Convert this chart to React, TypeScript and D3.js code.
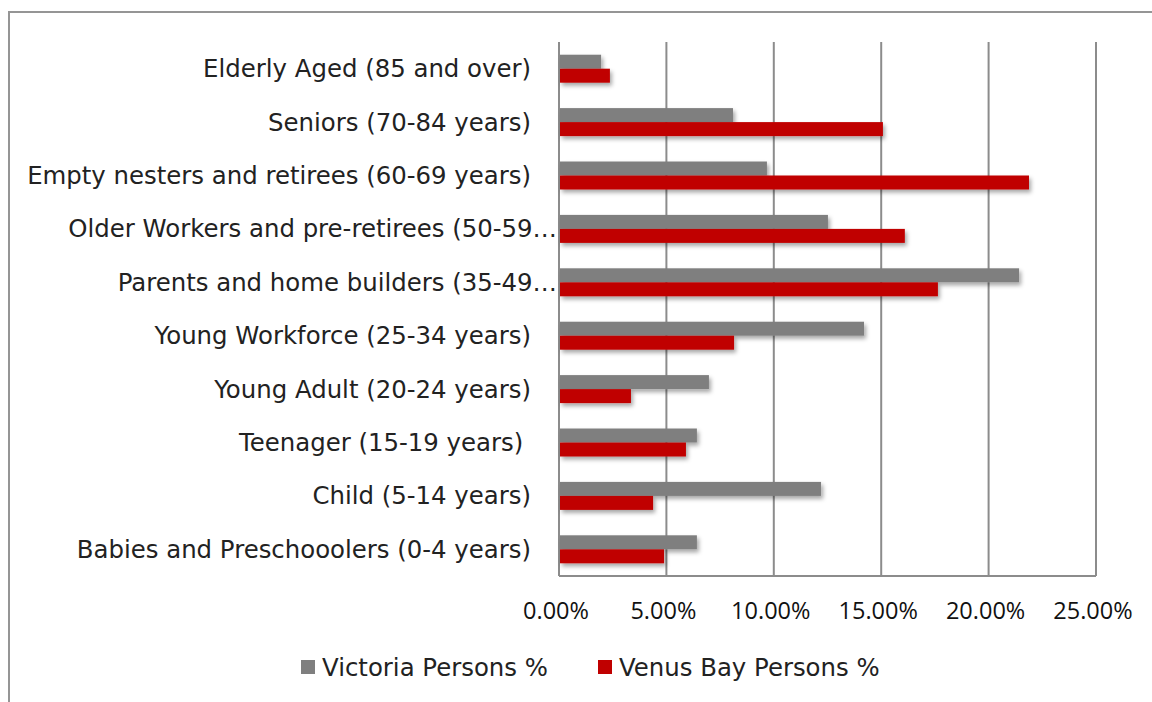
import React from "react";
import * as d3 from "d3";

const categories = [
  "Elderly Aged (85 and over)",
  "Seniors (70-84 years)",
  "Empty nesters and retirees (60-69 years)",
  "Older Workers and pre-retirees (50-59…",
  "Parents and home builders (35-49…",
  "Young Workforce (25-34 years)",
  "Young Adult (20-24 years)",
  "Teenager (15-19 years) ",
  "Child (5-14 years)",
  "Babies and Preschooolers (0-4 years)",
];
const victoria = [1.96, 8.1, 9.68, 12.52, 21.42, 14.2, 6.98, 6.42, 12.2, 6.42];
const venusBay = [2.37, 15.08, 21.88, 16.1, 17.64, 8.15, 3.35, 5.91, 4.38, 4.89];
const xTicks = [0, 5, 10, 15, 20, 25];
const seriesNames = ["Victoria Persons %", "Venus Bay Persons %"];
const seriesColors = ["#7f7f7f", "#c00000"];

const W = 1152;
const H = 702;
const plot = { left: 559, right: 1096, top: 42, bottom: 576 };

export default function App() {
  const x = d3.scaleLinear().domain([0, 25]).range([plot.left, plot.right]);
  const y = d3
    .scaleBand<string>()
    .domain(categories)
    .range([plot.top, plot.bottom])
    .padding(0);
  const groupH = y.bandwidth() * 0.524;
  const sub = d3
    .scaleBand<number>()
    .domain([0, 1])
    .range([(y.bandwidth() - groupH) / 2, (y.bandwidth() + groupH) / 2])
    .padding(0);
  const series = [victoria, venusBay];
  const labelFont = "'DejaVu Sans', sans-serif";
  const tickFont = "'Open Sans', sans-serif";

  return (
    <svg
      width={W}
      height={H}
      style={{ position: "absolute", left: 0, top: 0, background: "#fff" }}
    >
      <defs>
        <filter id="shadow" x="-10%" y="-50%" width="130%" height="250%">
          <feDropShadow dx="2" dy="3" stdDeviation="2" floodColor="#000" floodOpacity="0.35" />
        </filter>
      </defs>
      {/* frame */}
      <path d={`M9,${H} L9,12 L${W},12`} fill="none" stroke="#959595" strokeWidth={2} />
      {/* gridlines */}
      {xTicks.map((t) => (
        <line
          key={t}
          x1={x(t)}
          x2={x(t)}
          y1={plot.top}
          y2={plot.bottom}
          stroke="#8c8c8c"
          strokeWidth={2}
        />
      ))}
      <line x1={plot.left} x2={plot.right} y1={plot.bottom} y2={plot.bottom} stroke="#8c8c8c" strokeWidth={2} />
      {/* bars */}
      {categories.map((c, i) =>
        series.map((s, k) => (
          <rect
            key={c + k}
            x={x(0) + 1}
            y={(y(c) as number) + (sub(k) as number)}
            width={Math.max(0, x(s[i]) - x(0) - 1)}
            height={sub.bandwidth()}
            fill={seriesColors[k]}
            filter="url(#shadow)"
          />
        ))
      )}
      {/* category labels */}
      {categories.map((c) => (
        <text
          key={c}
          x={c.endsWith("…") ? plot.left - 2 : plot.left - 28}
          y={(y(c) as number) + y.bandwidth() / 2}
          textAnchor="end"
          dominantBaseline="central"
          fontFamily={labelFont}
          fontSize={24.4}
          fill="#222"
          style={{ whiteSpace: "pre" }}
        >
          {c}
        </text>
      ))}
      {/* tick labels */}
      {xTicks.map((t) => (
        <text
          key={t}
          x={x(t) - 3}
          y={610}
          textAnchor="middle"
          dominantBaseline="central"
          fontFamily={tickFont}
          fontSize={23.5}
          fill="#111"
        >
          {d3.format(".2f")(t) + "%"}
        </text>
      ))}
      {/* legend */}
      {seriesNames.map((n, k) => {
        const lx = [301, 598][k];
        return (
          <g key={n}>
            <rect x={lx} y={660} width={14} height={14} fill={seriesColors[k]} />
            <text
              x={lx + 21}
              y={667}
              dominantBaseline="central"
              fontFamily={labelFont}
              fontSize={24.4}
              fill="#222"
            >
              {n}
            </text>
          </g>
        );
      })}
    </svg>
  );
}
